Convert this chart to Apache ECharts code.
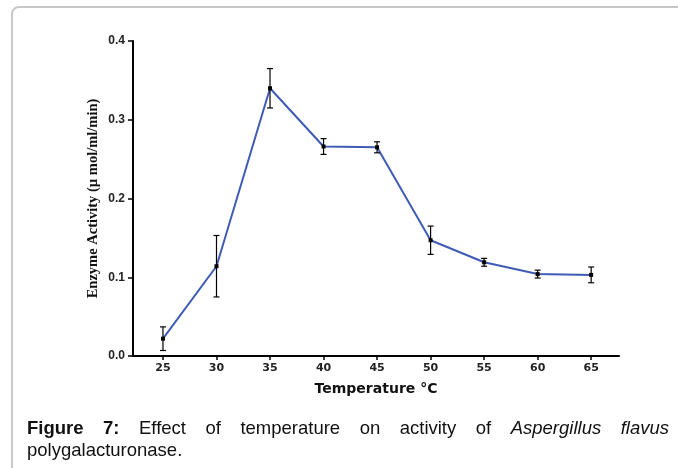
<html>
<head>
<meta charset="utf-8">
<title>Figure 7</title>
<script src="https://cdn.jsdelivr.net/npm/echarts@6.0.0/dist/echarts.min.js"></script>
<style>
    body{
      margin:0;
      background:#fff;
      width:678px;
      height:468px;
      overflow:hidden;
      position:relative;
    }
    #frame{
      position:absolute;
      left:11px;
      top:6px;
      width:720px;
      height:520px;
      border:2px solid #c8c8c8;
      border-radius:8px;
    }
    #container{
      position:absolute;
      left:0;
      top:0;
      width:678px;
      height:468px;
    }
    .cap{
      position:absolute;
      left:27px;
      width:642px;
      font-family:"Liberation Sans", Arial, sans-serif;
      font-size:18.5px;
      color:#111;
      white-space:nowrap;
    }
    #cap1{
      top:417px;
      text-align:justify;
      text-align-last:justify;
      white-space:normal;
    }
    #cap2{ top:439px; }
</style>
</head>
<body>
<div id="frame"></div>
<div id="container"></div>
<div class="cap" id="cap1"><b>Figure 7:</b> Effect of temperature on activity of <i>Aspergillus flavus</i></div>
<div class="cap" id="cap2">polygalacturonase.</div>
<script type="text/javascript">
    // temperature (°C) and mean activity with error
    var temps = [25, 30, 35, 40, 45, 50, 55, 60, 65];
    var activity = [0.022, 0.114, 0.340, 0.266, 0.265, 0.147, 0.119, 0.104, 0.103];
    var errs = [0.015, 0.039, 0.025, 0.010, 0.007, 0.018, 0.005, 0.005, 0.010];
    var xTicks = [25, 30, 35, 40, 45, 50, 55, 60, 65];

    var lineData = [];
    var errData = [];
    for (var i = 0; i < temps.length; i++) {
        lineData.push([temps[i], activity[i]]);
        errData.push([temps[i], activity[i] - errs[i], activity[i] + errs[i]]);
    }

    var dom = document.getElementById("container");
    var myChart = echarts.init(dom, null, {renderer: 'canvas'});
    var option = {
      animation: false,
      grid: {left: 133, top: 41, right: 59, bottom: 112},
      xAxis: {
        type: 'value',
        min: 22.2,
        max: 67.6,
        name: 'Temperature °C',
        nameLocation: 'middle',
        nameGap: 26,
        nameTextStyle: {fontFamily: 'DejaVu Sans', fontWeight: 'bold', fontSize: 14, color: '#111'},
        axisLine: {lineStyle: {color: '#000', width: 2}},
        axisTick: {customValues: xTicks, length: 4, lineStyle: {color: '#000', width: 1.5}},
        axisLabel: {customValues: xTicks, fontFamily: 'DejaVu Sans', fontWeight: 'bold', fontSize: 11, color: '#222', margin: 7},
        splitLine: {show: false}
      },
      yAxis: {
        type: 'value',
        min: 0,
        max: 0.4,
        interval: 0.1,
        name: 'Enzyme Activity (µ mol/ml/min)',
        nameLocation: 'middle',
        nameGap: 32,
        nameMoveOverlap: false,
        nameTextStyle: {fontFamily: 'Liberation Serif', fontWeight: 'bold', fontSize: 14.5, color: '#111'},
        axisLine: {show: true, lineStyle: {color: '#000', width: 2}},
        axisTick: {show: true, length: 5, lineStyle: {color: '#000', width: 1.5}},
        axisLabel: {
          formatter: function (v) { return v.toFixed(1); },
          fontFamily: '"Liberation Sans", Arial',
          fontWeight: 'bold', fontSize: 12, color: '#222', margin: 8
        },
        splitLine: {show: false}
      },
      series: [
        {
          type: 'line',
          data: lineData,
          symbol: 'rect',
          symbolSize: 4,
          itemStyle: {color: '#000'},
          lineStyle: {color: '#3f5bb5', width: 2},
          z: 3
        },
        {
          type: 'custom',
          data: errData,
          z: 4,
          renderItem: function (params, api) {
            var x = api.value(0);
            var top = api.coord([x, api.value(2)]);
            var bot = api.coord([x, api.value(1)]);
            var w = 3;
            var st = {stroke: '#000', lineWidth: 1.2};
            return {
              type: 'group',
              children: [
                {type: 'line', shape: {x1: top[0], y1: top[1], x2: bot[0], y2: bot[1]}, style: st},
                {type: 'line', shape: {x1: top[0] - w, y1: top[1], x2: top[0] + w, y2: top[1]}, style: st},
                {type: 'line', shape: {x1: bot[0] - w, y1: bot[1], x2: bot[0] + w, y2: bot[1]}, style: st}
              ]
            };
          }
        }
      ]
    };
    myChart.setOption(option);
</script>
</body>
</html>
